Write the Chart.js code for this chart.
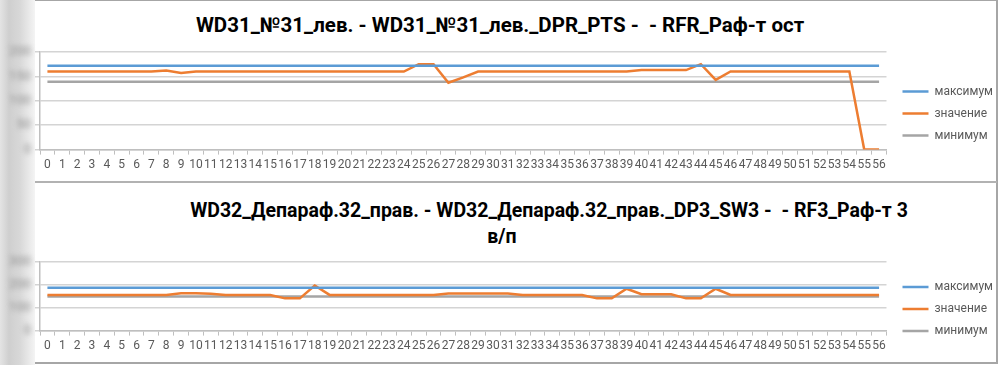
<!DOCTYPE html>
<html lang="ru">
<head>
<meta charset="utf-8">
<title>WD31 / WD32 - Раф-т</title>
<script src="https://cdn.jsdelivr.net/npm/chart.js@4.4.1/dist/chart.umd.min.js"></script>
<style>
  html, body { margin: 0; padding: 0; background: #fff; }
  body { width: 999px; height: 365px; position: relative; overflow: hidden; font-family: Roboto, "Noto Sans", sans-serif; }
  .strip { position: absolute; left: 0; top: 0; width: 35px; height: 365px;
           background: linear-gradient(to right, #e4e4e4 0px, #cfcfcf 9px, #d8d8d8 20px, #f4f4f4 35px); }
  .frame { position: absolute; left: 35px; top: 0; width: 961px; height: 361px;
           border-top: 1px solid #a6a6a6; border-right: 2px solid #a6a6a6; border-bottom: 2px solid #a6a6a6; }
  .divider { position: absolute; left: 35px; top: 181px; width: 962px; height: 2px; background: #b2b2b2; }
  .title { position: absolute; transform: translateX(-50%); white-space: pre;
           font-weight: bold; font-size: 20px; line-height: 22px; color: #000; }
  canvas { position: absolute; left: 0; }
</style>
</head>
<body>
<div class="strip"></div>
<div class="frame"></div>
<div class="divider"></div>

<div class="title" style="left:500px; top:14px; font-size:20.5px;">WD31_№31_лев. - WD31_№31_лев._DPR_PTS -  - RFR_Раф-т ост</div>
<div class="title" style="left:549px; top:200px; font-size:19.5px;">WD32_Депараф.32_прав. - WD32_Депараф.32_прав._DP3_SW3 -  - RF3_Раф-т 3</div>
<div class="title" style="left:502px; top:226px; font-size:19.5px;">в/п</div>

<canvas id="chart_top" width="1003" height="142" style="top:40px"></canvas>
<canvas id="chart_bottom" width="1003" height="113" style="top:250px"></canvas>

<script>
// abscisses 0..56
const labels = ['0','1','2','3','4','5','6','7','8','9','10','11','12','13','14','15','16','17','18','19',
  '20','21','22','23','24','25','26','27','28','29','30','31','32','33','34','35','36','37','38','39',
  '40','41','42','43','44','45','46','47','48','49','50','51','52','53','54','55','56'];

const seriesNames = ['максимум', 'значение', 'минимум'];

// WD31 - RFR Раф-т ост
const maxTop = [172,172,172,172,172,172,172,172,172,172, 172,172,172,172,172,172,172,172,172,172,
  172,172,172,172,172,172,172,172,172,172, 172,172,172,172,172,172,172,172,172,172,
  172,172,172,172,172,172,172,172,172,172, 172,172,172,172,172,172,172];
const valueTop = [160,160,160,160,160,160,160,160,162,157, 160,160,160,160,160,160,160,160,160,160,
  160,160,160,160,160,175,175,137,148,160, 160,160,160,160,160,160,160,160,160,160,
  163,163,163,163,175,143,160,160,160,160, 160,160,160,160,160,0,0];
const minTop = [139,139,139,139,139,139,139,139,139,139, 139,139,139,139,139,139,139,139,139,139,
  139,139,139,139,139,139,139,139,139,139, 139,139,139,139,139,139,139,139,139,139,
  139,139,139,139,139,139,139,139,139,139, 139,139,139,139,139,139,139];
const ticksTop = [0, 50, 100, 150, 200];

// WD32 - RF3 Раф-т 3 в/п
const maxBottom = [187,187,187,187,187,187,187,187,187,187, 187,187,187,187,187,187,187,187,187,187,
  187,187,187,187,187,187,187,187,187,187, 187,187,187,187,187,187,187,187,187,187,
  187,187,187,187,187,187,187,187,187,187, 187,187,187,187,187,187,187];
const valueBottom = [156,156,156,156,156,156,156,156,156,163, 163,161,156,156,156,156,141,141,197,156,
  156,156,156,156,156,156,156,162,162,162, 162,162,156,156,156,156,156,141,141,183,
  159,159,159,141,141,183,156,156,156,156, 156,156,156,156,156,156,156];
const minBottom = [149,149,149,149,149,149,149,149,149,149, 149,149,149,149,149,149,149,149,149,149,
  149,149,149,149,149,149,149,149,149,149, 149,149,149,149,149,149,149,149,149,149,
  149,149,149,149,149,149,149,149,149,149, 149,149,149,149,149,149,149];
const ticksBottom = [0, 100, 200, 300];

const colors = ['#5b9bd5', '#ed7d31', '#a5a5a5'];
const textColor = '#595959';
const gridColor = '#d4d4d4';

// les valeurs de l'axe Y sont floutées sur la capture d'origine
const blurYLabels = {
    id: 'blurYLabels',
    afterUpdate(chart) {
        const y = chart.scales.y;
        if (!y || y._blurred) return;
        const drawLabels = y.drawLabels.bind(y);
        y.drawLabels = area => {
            chart.ctx.save();
            chart.ctx.filter = 'blur(2.5px)';
            drawLabels(area);
            chart.ctx.restore();
        };
        y._blurred = true;
    }
};

function makeChart(id, series, yTicks) {
    const ctx = document.getElementById(id).getContext('2d');
    return new Chart(ctx, {
        type: 'line',
        data: {
            labels,
            datasets: series.map((data, i) => ({
                label: seriesNames[i],
                data,
                borderColor: colors[i],
                backgroundColor: colors[i],
                borderWidth: 2.5,
                pointRadius: 0,
                tension: 0,
                fill: false
            }))
        },
        options: {
            responsive: false,
            animation: false,
            layout: { padding: { top: 12, bottom: 7, right: 0 } },
            plugins: {
                legend: {
                    position: 'right',
                    labels: {
                        usePointStyle: true,
                        pointStyle: 'line',
                        pointStyleWidth: 26,
                        padding: 10,
                        color: textColor,
                        font: { family: 'Roboto', size: 12 }
                    }
                },
                tooltip: { enabled: false }
            },
            scales: {
                x: {
                    offset: true,
                    grid: { offset: true, drawOnChartArea: false, tickLength: 5, color: '#bfbfbf' },
                    border: { color: '#bfbfbf', width: 1.5 },
                    ticks: { autoSkip: false, maxRotation: 0, minRotation: 0, padding: 3,
                             color: textColor, font: { family: 'Roboto', size: 12 } }
                },
                y: {
                    min: yTicks[0],
                    max: yTicks[yTicks.length - 1],
                    afterBuildTicks: scale => { scale.ticks = yTicks.map(v => ({ value: v })); },
                    afterFit: scale => { scale.width = 40; },
                    grid: { color: gridColor, lineWidth: 1.5, tickLength: 5 },
                    border: { color: '#bfbfbf', width: 1.5 },
                    ticks: { padding: 4, color: '#8f8f8f', font: { family: 'Roboto', size: 13 } }
                },
                // espace entre la zone du graphique et la légende
                gap: {
                    position: 'right',
                    display: true,
                    grid: { display: false },
                    border: { display: false },
                    ticks: { display: false },
                    afterFit: scale => { scale.width = 6; }
                }
            }
        },
        plugins: [blurYLabels]
    });
}

makeChart('chart_top', [maxTop, valueTop, minTop], ticksTop);
makeChart('chart_bottom', [maxBottom, valueBottom, minBottom], ticksBottom);
</script>
</body>
</html>
